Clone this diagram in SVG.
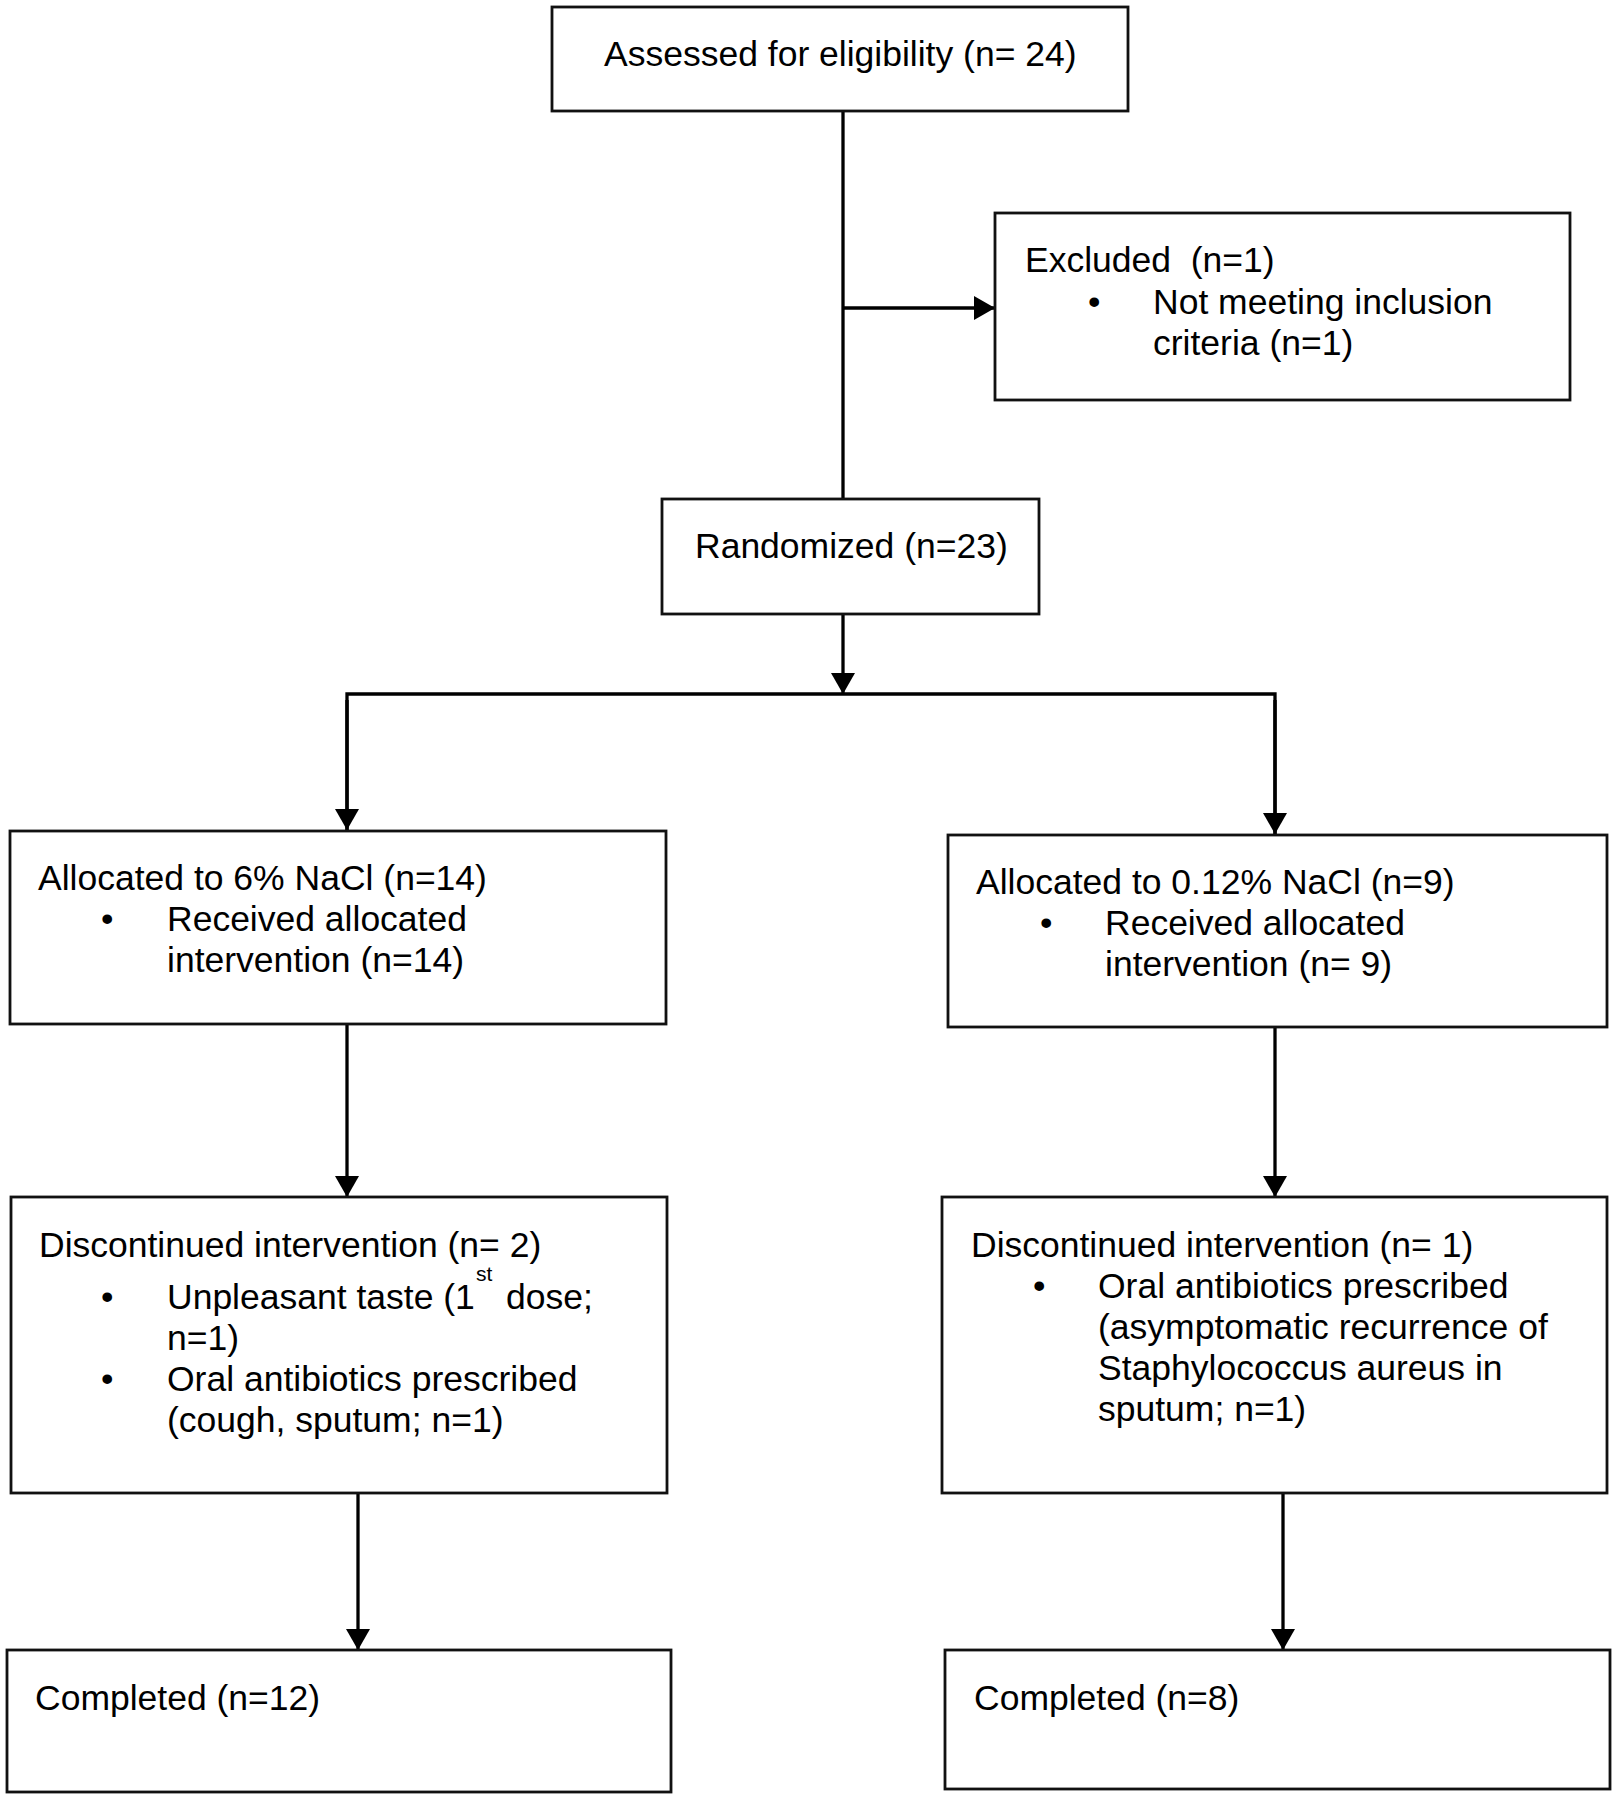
<svg xmlns="http://www.w3.org/2000/svg" width="1616" height="1800" viewBox="0 0 1616 1800">
<style>
.box{fill:#fff;stroke:#111;stroke-width:2.8}
.t{font-family:"Liberation Sans",Arial,sans-serif;font-size:35.5px;fill:#000}
.sup{font-family:"Liberation Sans",Arial,sans-serif;font-size:21px;fill:#000}
.c{fill:none;stroke:#000;stroke-width:3.3}
</style>
<defs>
<marker id="ah" markerUnits="userSpaceOnUse" markerWidth="21" markerHeight="24" refX="21" refY="12" orient="auto">
<path d="M0,0 L21,12 L0,24 z" fill="#000"/>
</marker>
</defs>
<rect width="1616" height="1800" fill="#fff"/>
<g id="connectors">
<line class="c" x1="843" y1="111" x2="843" y2="498"/>
<line class="c" x1="843" y1="308" x2="995" y2="308" marker-end="url(#ah)"/>
<line class="c" x1="843" y1="613" x2="843" y2="694" marker-end="url(#ah)"/>
<polyline class="c" points="347,830 347,694 1275,694 1275,834"/>
<line class="c" x1="347" y1="700" x2="347" y2="830" marker-end="url(#ah)"/>
<line class="c" x1="1275" y1="700" x2="1275" y2="834" marker-end="url(#ah)"/>
<line class="c" x1="347" y1="1024" x2="347" y2="1197" marker-end="url(#ah)"/>
<line class="c" x1="1275" y1="1026" x2="1275" y2="1197" marker-end="url(#ah)"/>
<line class="c" x1="358" y1="1493" x2="358" y2="1650" marker-end="url(#ah)"/>
<line class="c" x1="1283" y1="1493" x2="1283" y2="1650" marker-end="url(#ah)"/>
</g>
<g id="assessed">
<rect class="box" x="552" y="7" width="576" height="104"/>
<text class="t" x="604" y="66">Assessed for eligibility (n= 24)</text>
</g>
<g id="excluded">
<rect class="box" x="995" y="213" width="575" height="187"/>
<text class="t" x="1025" y="272" xml:space="preserve">Excluded  (n=1)</text>
<text class="t" x="1088" y="314">•</text>
<text class="t" x="1153" y="314">Not meeting inclusion</text>
<text class="t" x="1153" y="355">criteria (n=1)</text>
</g>
<g id="randomized">
<rect class="box" x="662" y="499" width="377" height="115"/>
<text class="t" x="695" y="558">Randomized (n=23)</text>
</g>
<g id="alloc-left">
<rect class="box" x="10" y="831" width="656" height="193"/>
<text class="t" x="38" y="890">Allocated to 6% NaCl (n=14)</text>
<text class="t" x="101" y="931">•</text>
<text class="t" x="167" y="931">Received allocated</text>
<text class="t" x="167" y="972">intervention (n=14)</text>
</g>
<g id="alloc-right">
<rect class="box" x="948" y="835" width="659" height="192"/>
<text class="t" x="976" y="894">Allocated to 0.12% NaCl (n=9)</text>
<text class="t" x="1040" y="935">•</text>
<text class="t" x="1105" y="935">Received allocated</text>
<text class="t" x="1105" y="976">intervention (n= 9)</text>
</g>
<g id="disc-left">
<rect class="box" x="11" y="1197" width="656" height="296"/>
<text class="t" x="39" y="1257">Discontinued intervention (n= 2)</text>
<text class="t" x="101" y="1309">•</text>
<text class="t" x="167" y="1309">Unpleasant taste (1</text>
<text class="sup" x="476" y="1281">st</text>
<text class="t" x="506" y="1309">dose;</text>
<text class="t" x="167" y="1350">n=1)</text>
<text class="t" x="101" y="1391">•</text>
<text class="t" x="167" y="1391">Oral antibiotics prescribed</text>
<text class="t" x="167" y="1432">(cough, sputum; n=1)</text>
</g>
<g id="disc-right">
<rect class="box" x="942" y="1197" width="665" height="296"/>
<text class="t" x="971" y="1257">Discontinued intervention (n= 1)</text>
<text class="t" x="1033" y="1298">•</text>
<text class="t" x="1098" y="1298">Oral antibiotics prescribed</text>
<text class="t" x="1098" y="1339">(asymptomatic recurrence of</text>
<text class="t" x="1098" y="1380">Staphylococcus aureus in</text>
<text class="t" x="1098" y="1421">sputum; n=1)</text>
</g>
<g id="completed-left">
<rect class="box" x="7" y="1650" width="664" height="142"/>
<text class="t" x="35" y="1710">Completed (n=12)</text>
</g>
<g id="completed-right">
<rect class="box" x="945" y="1650" width="665" height="139"/>
<text class="t" x="974" y="1710">Completed (n=8)</text>
</g>
</svg>
